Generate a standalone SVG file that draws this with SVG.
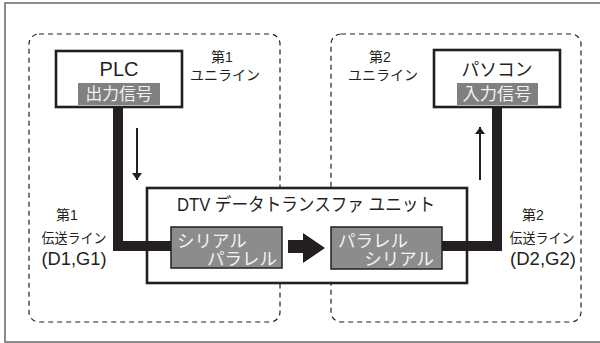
<svg xmlns="http://www.w3.org/2000/svg" width="600" height="343" viewBox="0 0 600 343">
<defs>
<style>
.t{font-family:"Liberation Sans","Noto Sans CJK JP",sans-serif;fill:#231f20}
.w{font-family:"Liberation Sans","Noto Sans CJK JP",sans-serif;fill:#f2f2f2}
.zone{fill:none;stroke:#231f20;stroke-width:1.2;stroke-dasharray:5,4}
.node{fill:#fff;stroke:#231f20;stroke-width:2.6}
.lbl{fill:#808080}
.proc{fill:#8c8c8c;stroke:#231f20;stroke-width:1.5}
.bus{fill:none;stroke:#231f20;stroke-width:10;stroke-linejoin:miter}
.thin{fill:none;stroke:#231f20;stroke-width:2}
</style>
<marker id="ah" viewBox="0 0 10 10" refX="10" refY="5" markerWidth="7" markerHeight="10" markerUnits="userSpaceOnUse" orient="auto" preserveAspectRatio="none">
<path d="M0,0 L10,5 L0,10 z" fill="#231f20"/>
</marker>
</defs>
<rect x="0" y="0" width="600" height="343" fill="#fff"/>
<rect x="5" y="3" width="605" height="339" fill="none" stroke="#666" stroke-width="1.5"/>

<g id="zone1">
<rect class="zone" x="29" y="34" width="251" height="288" rx="10"/>
<text class="t" x="222" y="62" font-size="14" text-anchor="middle">第1</text>
<text class="t" x="225" y="80" font-size="14" text-anchor="middle" textLength="70" lengthAdjust="spacingAndGlyphs">ユニライン</text>
<text class="t" x="67" y="220" font-size="14" text-anchor="middle">第1</text>
<text class="t" x="74" y="243" font-size="14" text-anchor="middle" textLength="65" lengthAdjust="spacingAndGlyphs">伝送ライン</text>
<text class="t" x="74" y="265" font-size="18" text-anchor="middle" textLength="65" lengthAdjust="spacingAndGlyphs">(D1,G1)</text>
</g>

<g id="zone2">
<rect class="zone" x="331" y="34" width="250" height="288" rx="10"/>
<text class="t" x="380" y="62" font-size="14" text-anchor="middle">第2</text>
<text class="t" x="383" y="80" font-size="14" text-anchor="middle" textLength="70" lengthAdjust="spacingAndGlyphs">ユニライン</text>
<text class="t" x="533" y="220" font-size="14" text-anchor="middle">第2</text>
<text class="t" x="542" y="243" font-size="14" text-anchor="middle" textLength="65" lengthAdjust="spacingAndGlyphs">伝送ライン</text>
<text class="t" x="543" y="265" font-size="18" text-anchor="middle" textLength="66" lengthAdjust="spacingAndGlyphs">(D2,G2)</text>
</g>

<g id="plc">
<rect class="node" x="56" y="51" width="126" height="56"/>
<text class="t" x="119" y="76" font-size="20" text-anchor="middle">PLC</text>
<rect class="lbl" x="78" y="83" width="82" height="22"/>
<text class="w" x="119" y="100" font-size="16.5" text-anchor="middle" textLength="67" lengthAdjust="spacingAndGlyphs">出力信号</text>
</g>

<g id="pc">
<rect class="node" x="434" y="50" width="126" height="57"/>
<text class="t" x="497" y="76" font-size="18" text-anchor="middle" textLength="71" lengthAdjust="spacingAndGlyphs">パソコン</text>
<rect class="lbl" x="457" y="83" width="81" height="22"/>
<text class="w" x="497" y="100" font-size="16.5" text-anchor="middle" textLength="69" lengthAdjust="spacingAndGlyphs">入力信号</text>
</g>

<g id="dtv">
<rect class="node" x="147" y="188" width="320" height="95"/>
<text class="t" x="177" y="211" font-size="18" textLength="258" lengthAdjust="spacingAndGlyphs">DTV データトランスファ ユニット</text>
</g>

<g id="connectors">
<polyline class="bus" points="118,106 118,246 172,246"/>
<polyline class="bus" points="441,246 497,246 497,106"/>
<line class="thin" x1="137" y1="128" x2="137" y2="180" marker-end="url(#ah)"/>
<line class="thin" x1="480" y1="180" x2="480" y2="127" marker-end="url(#ah)"/>
<path d="M288,240 L303,240 L303,233 L325,248 L303,263 L303,253 L288,253 z" fill="#231f20"/>
</g>

<g id="s2p">
<rect class="proc" x="171" y="227" width="111" height="41"/>
<text class="w" x="177" y="247" font-size="17.5">シリアル</text>
<text class="w" x="277" y="265" font-size="17.5" text-anchor="end">パラレル</text>
</g>

<g id="p2s">
<rect class="proc" x="331" y="227" width="111" height="42"/>
<text class="w" x="338" y="247" font-size="17.5">パラレル</text>
<text class="w" x="434" y="265" font-size="17.5" text-anchor="end">シリアル</text>
</g>
</svg>
